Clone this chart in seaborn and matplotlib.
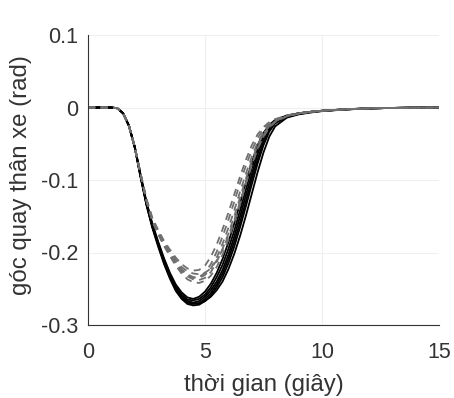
import matplotlib
matplotlib.use("Agg")
import matplotlib.pyplot as plt
import seaborn as sns
import numpy as np
import pandas as pd

# time grid (s)
t = [0, 1, 1.25, 1.5, 1.75, 2, 2.25, 2.5, 2.75, 3, 3.25, 3.5, 3.75, 4, 4.25, 4.5,
     4.75, 5, 5.25, 5.5, 5.75, 6, 6.25, 6.5, 6.75, 7, 7.25, 7.5, 7.75, 8, 8.5, 9,
     9.5, 10, 11, 12, 13, 14, 15]

# solid black runs
black_a = [0, 0, -0.001, -0.008, -0.025, -0.055, -0.095, -0.133, -0.163, -0.188, -0.212, -0.232, -0.249, -0.260, -0.267, -0.269, -0.267, -0.261, -0.252, -0.240, -0.224, -0.203, -0.178, -0.150, -0.121, -0.092, -0.064, -0.042, -0.027, -0.019, -0.012, -0.008, -0.006, -0.0045, -0.0025, -0.0012, -0.0006, -0.0002, 0]
black_b = [0, 0, -0.001, -0.008, -0.026, -0.056, -0.097, -0.135, -0.166, -0.192, -0.216, -0.236, -0.253, -0.264, -0.271, -0.273, -0.272, -0.267, -0.259, -0.248, -0.234, -0.215, -0.192, -0.165, -0.136, -0.106, -0.077, -0.052, -0.033, -0.022, -0.013, -0.009, -0.0065, -0.0048, -0.0027, -0.0013, -0.0006, -0.0002, 0]
black_c = [0, 0, -0.001, -0.008, -0.025, -0.054, -0.093, -0.130, -0.160, -0.185, -0.208, -0.228, -0.244, -0.255, -0.262, -0.264, -0.261, -0.254, -0.243, -0.228, -0.209, -0.186, -0.160, -0.132, -0.103, -0.076, -0.052, -0.035, -0.024, -0.017, -0.011, -0.008, -0.006, -0.0044, -0.0024, -0.0012, -0.0006, -0.0002, 0]
black_d = [0, 0, -0.001, -0.008, -0.025, -0.055, -0.096, -0.134, -0.165, -0.190, -0.214, -0.234, -0.251, -0.262, -0.269, -0.271, -0.270, -0.264, -0.256, -0.244, -0.229, -0.209, -0.185, -0.158, -0.129, -0.099, -0.071, -0.047, -0.030, -0.020, -0.0125, -0.0085, -0.006, -0.0046, -0.0026, -0.0012, -0.0006, -0.0002, 0]
black_e = [0, 0, -0.001, -0.008, -0.025, -0.055, -0.095, -0.133, -0.164, -0.189, -0.213, -0.233, -0.250, -0.262, -0.268, -0.270, -0.270, -0.267, -0.261, -0.252, -0.240, -0.223, -0.202, -0.177, -0.149, -0.119, -0.089, -0.062, -0.040, -0.026, -0.014, -0.0095, -0.007, -0.005, -0.0028, -0.0013, -0.0006, -0.0002, 0]
black_f = [0, 0, -0.001, -0.008, -0.025, -0.055, -0.094, -0.132, -0.162, -0.187, -0.210, -0.230, -0.247, -0.258, -0.265, -0.266, -0.264, -0.258, -0.248, -0.234, -0.217, -0.195, -0.170, -0.142, -0.113, -0.084, -0.058, -0.038, -0.025, -0.018, -0.0115, -0.008, -0.006, -0.0045, -0.0025, -0.0012, -0.0006, -0.0002, 0]

# dashed gray runs
gray_1 = [0, 0, -0.001, -0.008, -0.025, -0.055, -0.092, -0.128, -0.155, -0.172, -0.188, -0.201, -0.213, -0.223, -0.230, -0.234, -0.235, -0.231, -0.222, -0.207, -0.188, -0.166, -0.142, -0.116, -0.091, -0.068, -0.048, -0.034, -0.024, -0.018, -0.0115, -0.008, -0.006, -0.0045, -0.0025, -0.0012, -0.0006, -0.0002, 0]
gray_2 = [0, 0, -0.001, -0.008, -0.025, -0.055, -0.093, -0.129, -0.157, -0.175, -0.191, -0.205, -0.218, -0.229, -0.237, -0.241, -0.242, -0.239, -0.232, -0.220, -0.203, -0.182, -0.158, -0.132, -0.105, -0.079, -0.056, -0.039, -0.027, -0.019, -0.012, -0.0085, -0.006, -0.0046, -0.0026, -0.0012, -0.0006, -0.0002, 0]
gray_3 = [0, 0, -0.001, -0.008, -0.025, -0.055, -0.091, -0.126, -0.152, -0.169, -0.184, -0.196, -0.207, -0.216, -0.222, -0.225, -0.224, -0.218, -0.206, -0.189, -0.168, -0.145, -0.120, -0.095, -0.072, -0.052, -0.037, -0.027, -0.020, -0.016, -0.011, -0.008, -0.006, -0.0044, -0.0024, -0.0012, -0.0006, -0.0002, 0]
gray_4 = [0, 0, -0.001, -0.008, -0.025, -0.055, -0.092, -0.128, -0.156, -0.174, -0.190, -0.203, -0.215, -0.226, -0.233, -0.237, -0.238, -0.235, -0.227, -0.213, -0.195, -0.174, -0.150, -0.124, -0.098, -0.073, -0.052, -0.036, -0.026, -0.019, -0.012, -0.008, -0.006, -0.0045, -0.0025, -0.0012, -0.0006, -0.0002, 0]
gray_5 = [0, 0, -0.001, -0.008, -0.025, -0.055, -0.092, -0.127, -0.154, -0.171, -0.186, -0.199, -0.210, -0.220, -0.226, -0.229, -0.230, -0.228, -0.222, -0.211, -0.196, -0.177, -0.155, -0.130, -0.104, -0.079, -0.057, -0.040, -0.028, -0.020, -0.012, -0.0085, -0.006, -0.0045, -0.0025, -0.0012, -0.0006, -0.0002, 0]
gray_6 = [0, 0, -0.001, -0.008, -0.025, -0.055, -0.092, -0.128, -0.156, -0.173, -0.189, -0.202, -0.214, -0.224, -0.231, -0.235, -0.234, -0.228, -0.216, -0.199, -0.178, -0.155, -0.130, -0.104, -0.080, -0.059, -0.042, -0.030, -0.022, -0.017, -0.011, -0.008, -0.006, -0.0044, -0.0024, -0.0012, -0.0006, -0.0002, 0]

x_ticks = [0, 5, 10, 15]
x_tick_labels = ["0", "5", "10", "15"]
y_ticks = [-0.3, -0.2, -0.1, 0, 0.1]
y_tick_labels = ["-0.3", "-0.2", "-0.1", "0", "0.1"]
x_label = "thời gian (giây)"
y_label = "góc quay thân xe (rad)"

black_runs = [black_a, black_b, black_c, black_d, black_e, black_f]
gray_runs = [gray_1, gray_2, gray_3, gray_4, gray_5, gray_6]

rows = []
for i, r in enumerate(black_runs):
    for tt, v in zip(t, r):
        rows.append({"t": tt, "v": v, "run": f"b{i}", "kind": "black"})
for i, r in enumerate(gray_runs):
    for tt, v in zip(t, r):
        rows.append({"t": tt, "v": v, "run": f"g{i}", "kind": "gray"})
df = pd.DataFrame(rows)

sns.set_style("white")
plt.rcParams["font.family"] = ["Liberation Sans", "DejaVu Sans"]

fig = plt.figure(figsize=(4.54, 3.98), dpi=100)
ax = fig.add_axes([88 / 454, 1 - 325 / 398, 351 / 454, 290 / 398])

for run, sub in df[df.kind == "black"].groupby("run"):
    sns.lineplot(data=sub, x="t", y="v", ax=ax, color="black", lw=1.3,
                 estimator=None, legend=False)
for run, sub in df[df.kind == "gray"].groupby("run"):
    sns.lineplot(data=sub, x="t", y="v", ax=ax, color="#707070", lw=1.3,
                 linestyle=(0, (4, 3)), estimator=None, legend=False)

ax.set_xlim(0, 15)
ax.set_ylim(-0.3, 0.1)
ax.set_xticks(x_ticks)
ax.set_xticklabels(x_tick_labels)
ax.set_yticks(y_ticks)
ax.set_yticklabels(y_tick_labels)
ax.grid(True, color="#efefef", lw=0.8)
ax.set_axisbelow(True)

for s in ["top", "right"]:
    ax.spines[s].set_visible(False)
for s in ["left", "bottom"]:
    ax.spines[s].set_color("#333333")
    ax.spines[s].set_linewidth(0.8)

ax.tick_params(axis="both", direction="in", length=3, width=0.8, color="#333333",
               labelsize=15.5, labelcolor="#333333")
ax.tick_params(axis="y", pad=7)
ax.tick_params(axis="x", pad=12)

ax.set_xlabel(x_label, fontsize=17.3, color="#333333")
ax.set_ylabel(y_label, fontsize=17.3, color="#333333")
ax.xaxis.label.set_verticalalignment("center")
ax.xaxis.set_label_coords(0.5, -(385 - 325) / 290, transform=ax.transAxes)
ax.yaxis.label.set_verticalalignment("center")
ax.yaxis.set_label_coords((21 - 88) / 351, 1 - (175 - 35) / 290)

fig.savefig("out.png", dpi=100)
